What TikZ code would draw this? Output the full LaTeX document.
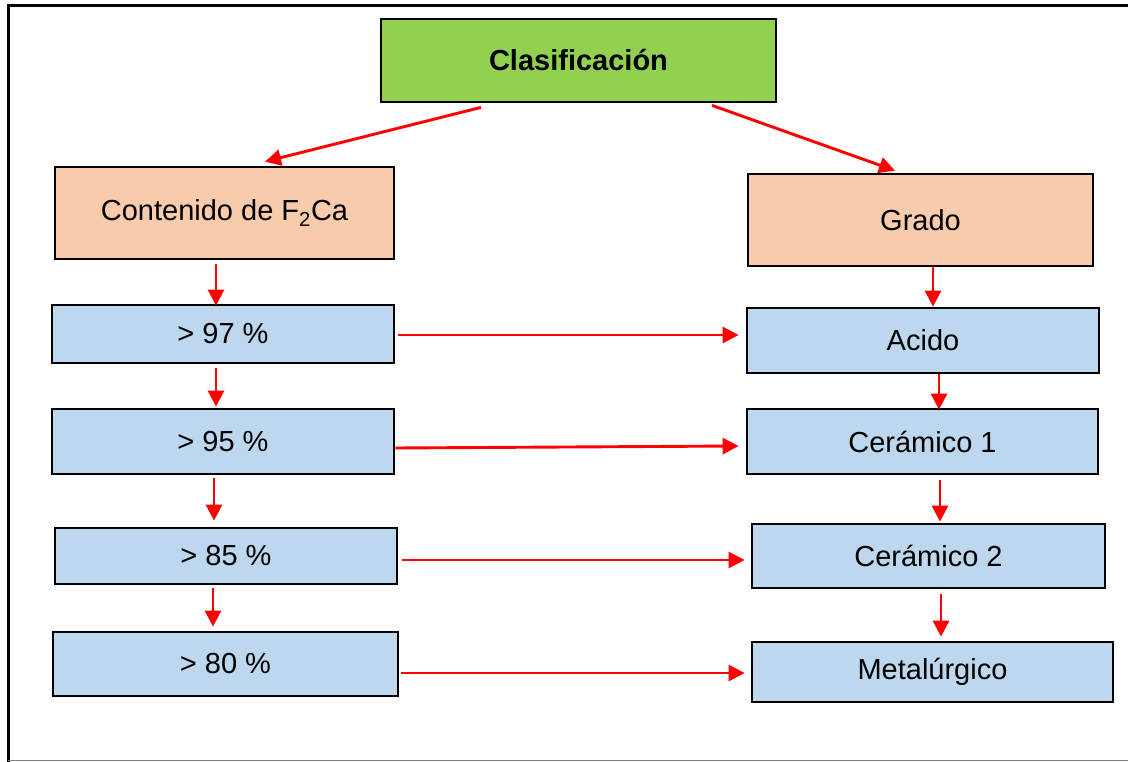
\documentclass[tikz,border=0pt]{standalone}
\usepackage{fontspec}
\setmainfont{Liberation Sans}
\usetikzlibrary{arrows.meta,calc}
\definecolor{cgreen}{HTML}{92D050}
\definecolor{cpeach}{HTML}{F8CBAD}
\definecolor{cblue}{HTML}{BDD7EE}
\definecolor{cred}{HTML}{FF0000}
\begin{document}
\begin{tikzpicture}[x=1pt,y=-1pt,
  box/.style={draw=black,line width=2.8pt,inner sep=0pt,align=center,
    font=\fontsize{29}{34}\selectfont},
  gbox/.style={box,fill=cgreen,font=\fontsize{29}{34}\selectfont\bfseries},
  pbox/.style={box,fill=cpeach},
  bbox/.style={box,fill=cblue},
  arr/.style={draw=cred,line width=2.9pt,-{Triangle[length=16pt,width=16pt]}}]
\useasboundingbox (0,0) rectangle (1128,762);
% frame
\draw[line width=3.3pt] (8.3,762) -- (8.3,5.5) -- (1128,5.5);
\draw[gray,line width=1.2pt] (8,760.5) -- (1128,760.5);
% nodes
\node[gbox,minimum width=395pt,minimum height=83pt] (cls) at (578.5,60.5) {Clasificación};
\node[pbox,minimum width=339pt,minimum height=92pt] (cont) at (224.5,213) {Contenido de F\textsubscript{2}Ca};
\node[pbox,minimum width=345pt,minimum height=92pt] (grado) at (920.5,220) {Grado};
\node[bbox,minimum width=342pt,minimum height=58pt] (p97) at (223,334) {> 97 \%};
\node[bbox,minimum width=342pt,minimum height=65pt] (p95) at (223,441.5) {> 95 \%};
\node[bbox,minimum width=342pt,minimum height=56pt] (p85) at (226,556) {> 85 \%};
\node[bbox,minimum width=345pt,minimum height=64pt] (p80) at (225.5,664) {> 80 \%};
\node[bbox,minimum width=352pt,minimum height=65pt] (acido) at (923,340.5) {Acido};
\node[bbox,minimum width=351pt,minimum height=65pt] (cer1) at (922.5,441.5) {Cerámico 1};
\node[bbox,minimum width=353pt,minimum height=64pt] (cer2) at (928.5,556) {Cerámico 2};
\node[bbox,minimum width=361pt,minimum height=60pt] (met) at (932.5,672) {Metalúrgico};
% connectors
\draw[arr] ($(cls.south)+(-97.5,4)$) -- ($(cont.north)+(40.5,-4)$);
\draw[arr] ($(cls.south)+(133.5,2)$) -- ($(grado.north)+(-25.5,-2)$);
\draw[arr] ($(cont.south)+(-8.5,4)$) -- ($(p97.north)+(-7,2)$);
\draw[arr] ($(p97.south)+(-7,4)$) -- ($(p95.north)+(-7,-1)$);
\draw[arr] ($(p95.south)+(-9,3)$) -- ($(p85.north)+(-12,-6)$);
\draw[arr] ($(p85.south)+(-13,3)$) -- ($(p80.north)+(-12.5,-4)$);
\draw[arr] ($(grado.south)+(12.5,0)$) -- ($(acido.north)+(10,0)$);
\draw[arr] ($(acido.south)+(16,0)$) -- ($(cer1.north)+(16.5,2)$);
\draw[arr] ($(cer1.south)+(17.5,5)$) -- ($(cer2.north)+(11.5,-1)$);
\draw[arr] ($(cer2.south)+(12.5,5)$) -- ($(met.north)+(8.5,-4)$);
\draw[arr] ($(p97.east)+(3,1)$) -- ($(acido.west)+(-7,-5.5)$);
\draw[arr] ($(p95.east)+(0,6.5)$) -- ($(cer1.west)+(-7,4.5)$);
\draw[arr] ($(p85.east)+(4,4)$) -- ($(cer2.west)+(-6,4)$);
\draw[arr] ($(p80.east)+(2,9)$) -- ($(met.west)+(-6,1)$);
\end{tikzpicture}
\end{document}
